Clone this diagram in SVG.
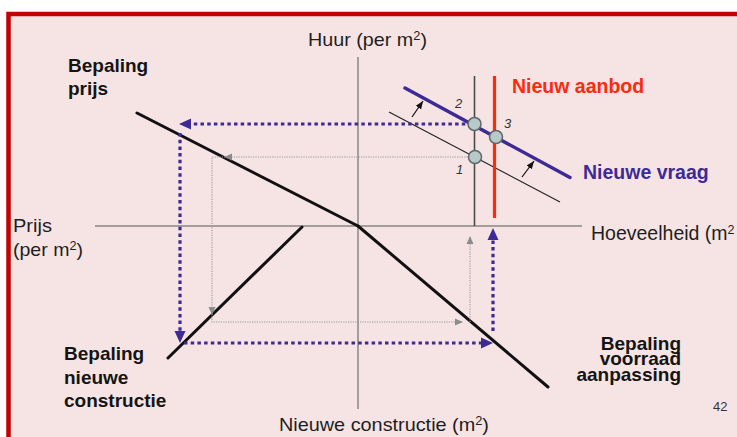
<svg xmlns="http://www.w3.org/2000/svg" width="737" height="437" viewBox="0 0 737 437">
<defs>
<style>
.t{font-family:"Liberation Sans",Arial,sans-serif;fill:#1e1e1e;font-size:18.5px}
.b{font-family:"Liberation Sans",Arial,sans-serif;fill:#141414;font-size:19px;font-weight:bold}
.n{font-family:"Liberation Sans",Arial,sans-serif;fill:#333;font-size:13px;font-style:italic}
.thick{stroke:#111;stroke-width:3;fill:none;stroke-linecap:round}
.bd{stroke:#3d2a94;stroke-width:3.2;fill:none;stroke-dasharray:3.5 3.2}
.gd{stroke:#9a9a9a;stroke-width:1.1;fill:none;stroke-dasharray:1.2 1.2}
.pt{fill:#b7c9c9;stroke:#5f6868;stroke-width:1.5}
</style>
<marker id="ab" markerUnits="userSpaceOnUse" markerWidth="12" markerHeight="12" viewBox="0 0 12 12" refX="12" refY="6" orient="auto"><path d="M0,0.5 L12,6 L0,11.5 Z" fill="#3d2a94"/></marker>
<marker id="ag" markerUnits="userSpaceOnUse" markerWidth="8" markerHeight="8" viewBox="0 0 8 8" refX="8" refY="4" orient="auto"><path d="M0,0.5 L8,4 L0,7.5 Z" fill="#8c8c8c"/></marker>
<marker id="ak" markerUnits="userSpaceOnUse" markerWidth="8" markerHeight="8" viewBox="0 0 8 8" refX="8" refY="4" orient="auto"><path d="M0,0.8 L8,4 L0,7.2 Z" fill="#111"/></marker>
</defs>
<rect x="0" y="0" width="737" height="437" fill="#ffffff"/>
<rect x="8.5" y="14" width="760" height="450" fill="#f6e4e5" stroke="#c40000" stroke-width="4.5"/>

<g id="axes">
<line x1="358" y1="57" x2="358" y2="409" stroke="#777" stroke-width="1.3"/>
<line x1="95" y1="226" x2="582" y2="226" stroke="#555" stroke-width="1.2"/>
</g>

<g id="curves">
<line class="thick" x1="137" y1="113" x2="358" y2="226"/>
<line class="thick" x1="358" y1="226" x2="548" y2="387"/>
<line class="thick" x1="302" y1="227" x2="168" y2="358"/>
<line x1="474.5" y1="76" x2="474.5" y2="226" stroke="#4a4a4a" stroke-width="1.6"/>
<line x1="389" y1="112" x2="560" y2="202" stroke="#222" stroke-width="1.2"/>
<line x1="494.5" y1="76" x2="494.5" y2="218" stroke="#ff2a0a" stroke-width="3.2"/>
<line x1="405" y1="88" x2="570" y2="177.5" stroke="#3d2a94" stroke-width="3.5" stroke-linecap="round"/>
</g>

<g id="connectors">
<path class="gd" d="M475,157 H212 V322 H462"/>
<path class="gd" d="M470,322 V237"/>
<line x1="232" y1="157" x2="224" y2="157" stroke="none" marker-end="url(#ag)"/>
<line x1="212" y1="305" x2="212" y2="315" stroke="none" marker-end="url(#ag)"/>
<line x1="452" y1="322" x2="463" y2="322" stroke="none" marker-end="url(#ag)"/>
<line x1="470" y1="248" x2="470" y2="236" stroke="none" marker-end="url(#ag)"/>
<path class="bd" d="M472,124 H183"/>
<line x1="195" y1="124" x2="179" y2="124" stroke="none" marker-end="url(#ab)"/>
<path class="bd" d="M180,133 V334"/>
<line x1="180" y1="330" x2="180" y2="343" stroke="none" marker-end="url(#ab)"/>
<path class="bd" d="M184,343 H484"/>
<line x1="480" y1="343" x2="493" y2="343" stroke="none" marker-end="url(#ab)"/>
<path class="bd" d="M493,331 V238"/>
<line x1="493" y1="242" x2="493" y2="228" stroke="none" marker-end="url(#ab)"/>
<line x1="412" y1="117" x2="423" y2="101" stroke="#111" stroke-width="1.2" marker-end="url(#ak)"/>
<line x1="522" y1="177" x2="534" y2="161" stroke="#111" stroke-width="1.2" marker-end="url(#ak)"/>
</g>

<g id="points">
<circle class="pt" cx="474.5" cy="124" r="6.5"/>
<circle class="pt" cx="496" cy="137" r="6.5"/>
<circle class="pt" cx="475" cy="157" r="6.5"/>
<text class="n" x="455" y="108">2</text>
<text class="n" x="504" y="128">3</text>
<text class="n" x="456" y="174">1</text>
</g>

<g id="labels">
<text class="t" x="308" y="46" textLength="119" lengthAdjust="spacingAndGlyphs">Huur (per m<tspan font-size="12" dy="-6">2</tspan><tspan dy="6">)</tspan></text>
<text class="t" x="13" y="232" textLength="39" lengthAdjust="spacingAndGlyphs">Prijs</text>
<text class="t" x="13" y="256" textLength="70" lengthAdjust="spacingAndGlyphs">(per m<tspan font-size="12" dy="-6">2</tspan><tspan dy="6">)</tspan></text>
<text class="t" x="591" y="240" style="font-size:19.5px">Hoeveelheid (m<tspan font-size="12.5" dy="-6">2</tspan></text>
<text class="t" x="279" y="431" textLength="210" lengthAdjust="spacingAndGlyphs">Nieuwe constructie (m<tspan font-size="12" dy="-6">2</tspan><tspan dy="6">)</tspan></text>
<text x="713" y="411" font-family="Liberation Sans, Arial, sans-serif" font-size="13" fill="#333">42</text>
</g>

<g id="bepaling-prijs">
<text class="b" x="68" y="72">Bepaling</text>
<text class="b" x="68" y="95">prijs</text>
</g>
<g id="bepaling-nieuwe-constructie">
<text class="b" x="64" y="360">Bepaling</text>
<text class="b" x="64" y="384">nieuwe</text>
<text class="b" x="64" y="407">constructie</text>
</g>
<g id="bepaling-voorraad-aanpassing">
<text class="b" x="681" y="350" text-anchor="end">Bepaling</text>
<text class="b" x="681" y="365" text-anchor="end">voorraad</text>
<text class="b" x="681" y="380.5" text-anchor="end">aanpassing</text>
</g>
<g id="nieuw-aanbod">
<text class="b" x="512" y="93" style="fill:#ff2a0a;font-size:19.5px">Nieuw aanbod</text>
</g>
<g id="nieuwe-vraag">
<text class="b" x="583" y="179" style="fill:#3d2a94;font-size:19.5px">Nieuwe vraag</text>
</g>
</svg>
